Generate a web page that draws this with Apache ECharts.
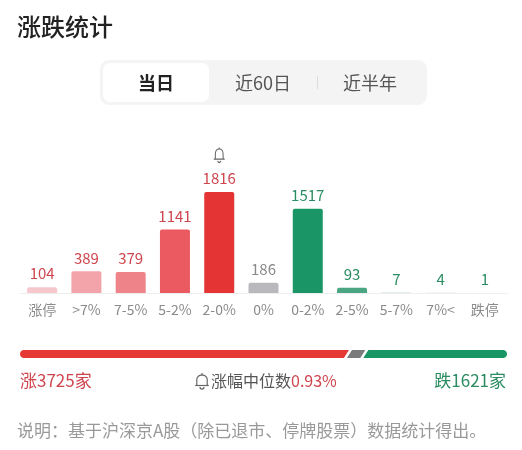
<!DOCTYPE html>
<html>
<head>
<meta charset="utf-8">
<script src="https://cdn.jsdelivr.net/npm/echarts@6/dist/echarts.min.js"></script>
<style>
html,body{margin:0;padding:0;background:#fff;}
#main{width:522px;height:450px;}
</style>
</head>
<body>
<div id="main"></div>
<script>
// ---- data ----
const categories = ['涨停', '>7%', '7-5%', '5-2%', '2-0%', '0%', '0-2%', '2-5%', '5-7%', '7%<', '跌停'];
const counts = [104, 389, 379, 1141, 1816, 186, 1517, 93, 7, 4, 1];
const medianChange = 0.93;
const tabLabels = ['当日', '近60日', '近半年'];
const titleText = '涨跌统计';
const noteText = '说明：基于沪深京A股（除已退市、停牌股票）数据统计得出。';

// ---- styles ----
const barColors = ['#f6c8ce', '#f2a4aa', '#ee8489', '#ea5a60', '#e53434', '#b9b9bd', '#1a9565', '#4aa583', '#c8ddd4', '#c8ddd4', '#c8ddd4'];
const labelColors = ['#cf454e', '#cf454e', '#cf454e', '#cf454e', '#cf454e', '#8a8a8a', '#2b8c62', '#2b8c62', '#2b8c62', '#2b8c62', '#2b8c62'];
const segColors = ['#e53935', '#7b7b7b', '#1a9565'];
const FONT = '"Noto Sans CJK SC", "Noto Sans", sans-serif';

const sum = a => a.reduce((s, v) => s + v, 0);
const upTotal = sum(counts.slice(1, 5));
const flatTotal = counts[5];
const downTotal = sum(counts.slice(6, 10));
const total = upTotal + flatTotal + downTotal;
const segments = [
  [0, upTotal, 0],
  [upTotal, upTotal + flatTotal, 1],
  [upTotal + flatTotal, total, 2]
];

const bellPath = 'path://M10 0.5 L10 2.5 M4 17 L4 10 C4 5.5 6.5 2.5 10 2.5 C13.5 2.5 16 5.5 16 10 L16 17 M1.5 17 L18.5 17 M7.5 19.5 C8.2 22.5 11.8 22.5 12.5 19.5';

function renderSeg(params, api) {
  const s = api.value(0), e = api.value(1), k = api.value(2);
  const p0 = api.coord([s, 0]);
  const p1 = api.coord([e, 1]);
  const x0 = p0[0], x1 = p1[0], yb = p0[1], yt = p1[1];
  const h = yb - yt, r = h / 2, cy = yt + r;
  const sl = 2.5, gap = 1.5, n = 14;
  const pts = [];
  if (k === 0) {
    const cx = x0 + r;
    for (let i = 0; i <= n; i++) {
      const t = Math.PI / 2 + Math.PI * i / n;
      pts.push([cx + r * Math.cos(t), cy - r * Math.sin(t)]);
    }
  } else {
    pts.push([x0 + gap + sl, yt]);
    pts.push([x0 + gap - sl, yb]);
  }
  if (k === segments.length - 1) {
    const cx = x1 - r;
    for (let i = 0; i <= n; i++) {
      const t = -Math.PI / 2 + Math.PI * i / n;
      pts.push([cx + r * Math.cos(t), cy - r * Math.sin(t)]);
    }
  } else {
    pts.push([x1 - gap - sl, yb]);
    pts.push([x1 - gap + sl, yt]);
  }
  return { type: 'polygon', shape: { points: pts }, style: { fill: segColors[k] } };
}

// small bell icon built from simple shapes (for the median line)
function bellGroup(cx, top, color) {
  const pts = [];
  const w = 5.2, hh = 10.5;
  const baseY = top + 12.5;
  pts.push([cx - w, baseY]);
  for (let i = 0; i <= 16; i++) {
    const t = Math.PI - Math.PI * i / 16;
    pts.push([cx + w * Math.cos(t), top + 2 + (hh - 6) - (hh - 6) * Math.sin(t)]);
  }
  pts.push([cx + w, baseY]);
  return {
    type: 'group',
    children: [
      { type: 'polyline', shape: { points: pts }, style: { stroke: color, lineWidth: 1.2, fill: null } },
      { type: 'line', shape: { x1: cx - w - 1.6, y1: baseY, x2: cx + w + 1.6, y2: baseY }, style: { stroke: color, lineWidth: 1.2 } },
      { type: 'line', shape: { x1: cx, y1: top, x2: cx, y2: top + 2 }, style: { stroke: color, lineWidth: 1.2 } },
      { type: 'arc', shape: { cx: cx, cy: baseY + 1.6, r: 2, startAngle: 0, endAngle: Math.PI }, style: { stroke: color, lineWidth: 1.2, fill: null } }
    ]
  };
}

const chart = echarts.init(document.getElementById('main'));

const tabCenters = [156, 263, 370];
const graphics = [
  { type: 'text', style: { text: titleText, x: 17, y: 27, textVerticalAlign: 'middle', font: '500 24px ' + FONT, fill: '#222' } },
  { type: 'rect', shape: { x: 100, y: 60, width: 327, height: 45, r: 9 }, style: { fill: '#f4f4f4' } },
  { type: 'rect', shape: { x: 103, y: 63, width: 106, height: 39, r: 7 }, style: { fill: '#ffffff' } },
  { type: 'rect', shape: { x: 317, y: 76, width: 1, height: 13 }, style: { fill: '#dddddd' } }
];
tabLabels.forEach((t, i) => {
  graphics.push({
    type: 'text',
    style: {
      text: t, x: tabCenters[i], y: 83, textAlign: 'center', textVerticalAlign: 'middle',
      font: (i === 0 ? 'bold ' : '') + '18px ' + FONT, fill: i === 0 ? '#222' : '#555'
    }
  });
});
graphics.push(
  { type: 'text', style: { text: '涨' + upTotal + '家', x: 20, y: 381, textVerticalAlign: 'middle', font: '17px ' + FONT, fill: '#cf454e' } },
  { type: 'text', style: { text: '跌' + downTotal + '家', x: 506, y: 381, textAlign: 'right', textVerticalAlign: 'middle', font: '17px ' + FONT, fill: '#2b8c62' } },
  bellGroup(202, 373, '#666'),
  {
    type: 'text',
    style: {
      text: '{a|涨幅中位数}{b|' + medianChange.toFixed(2) + '%}', x: 211, y: 381, textVerticalAlign: 'middle',
      rich: {
        a: { fontSize: 16, fontFamily: FONT, fill: '#555' },
        b: { fontSize: 16, fontFamily: FONT, fill: '#cf454e' }
      }
    }
  },
  { type: 'text', style: { text: noteText, x: 17, y: 431, textVerticalAlign: 'middle', font: '17px ' + FONT, fill: '#999' } }
);

const maxVal = Math.max(...counts);

chart.setOption({
  animation: false,
  backgroundColor: '#fff',
  textStyle: { fontFamily: FONT },
  grid: [
    { left: 20, right: 15, top: 192, bottom: 157 },
    { left: 20, right: 15, top: 350, height: 8 }
  ],
  xAxis: [
    {
      type: 'category', data: categories, gridIndex: 0,
      axisLine: { show: true, lineStyle: { color: '#eeeeee', width: 1 } },
      axisTick: { show: false },
      axisLabel: { color: '#8a8a8a', fontSize: 14, margin: 10, fontFamily: FONT, interval: 0 }
    },
    { type: 'value', gridIndex: 1, min: 0, max: total, show: false }
  ],
  yAxis: [
    { type: 'value', gridIndex: 0, min: 0, max: maxVal, show: false, splitLine: { show: false } },
    { type: 'value', gridIndex: 1, min: 0, max: 1, show: false }
  ],
  series: [
    {
      type: 'bar', xAxisIndex: 0, yAxisIndex: 0, barWidth: 30,
      data: counts.map((v, i) => ({
        value: v,
        itemStyle: { color: barColors[i], borderRadius: [2, 2, 0, 0] },
        label: { color: labelColors[i] }
      })),
      label: { show: true, position: 'top', distance: 6, fontSize: 15, fontFamily: FONT },
      markPoint: {
        data: [{ type: 'max' }],
        symbol: bellPath,
        symbolSize: [11, 15],
        symbolOffset: [0, -37],
        itemStyle: { color: 'transparent', borderColor: '#666', borderWidth: 1.2 },
        label: { show: false }
      }
    },
    {
      type: 'custom', xAxisIndex: 1, yAxisIndex: 1, coordinateSystem: 'cartesian2d',
      renderItem: renderSeg, data: segments, encode: { x: [0, 1] }, clip: false
    }
  ],
  graphic: graphics
});
</script>
</body>
</html>
